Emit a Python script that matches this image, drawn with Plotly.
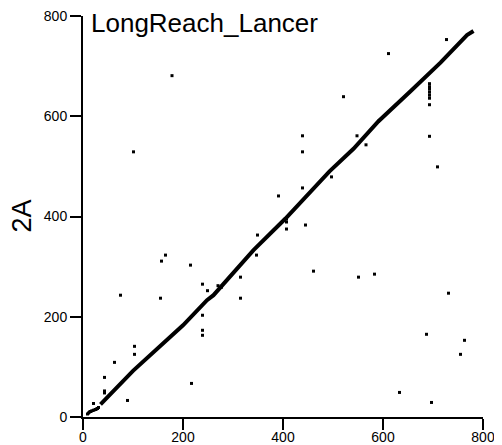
"""Dot plot: LongReach_Lancer vs 2A"""
import plotly.graph_objects as go

# main diagonal (vertices)
diag_x = [35, 100, 200, 248, 261, 341, 405, 493, 541, 591, 655, 715, 768, 781]
diag_y = [25, 92, 183, 233, 243, 333, 396, 490, 535, 590, 650, 707, 762, 770]

# small start of the diagonal
start_x = [9, 11, 13, 15, 17, 20, 22, 25, 27, 29, 31]
start_y = [6, 8, 10, 11, 12, 13, 14, 15, 16, 17, 19]

# scattered matches
dots_x = [178, 611, 727, 521, 439, 548, 566, 693,
          693, 693, 693, 693, 693, 693, 693,
          101, 439, 709, 391, 439, 445, 407, 407, 407, 349, 461, 551, 583, 731,
          165, 157, 215, 75, 155, 239, 249, 315, 315, 277, 270, 497,
          239, 239, 239, 103, 103, 63, 43, 43, 43, 89, 21, 217,
          633, 697, 687, 763, 755, 347, 591]
dots_y = [681, 725, 753, 639, 561, 561, 543, 560,
          665, 659, 654, 648, 642, 636, 623,
          529, 529, 499, 441, 457, 383, 375, 395, 389, 363, 291, 279, 285, 247,
          323, 311, 303, 243, 237, 265, 252, 279, 237, 259, 262, 479,
          203, 173, 163, 141, 125, 109, 79, 52, 48, 33, 27, 67,
          49, 29, 165, 153, 125, 323, 590]

FONT = "Liberation Sans, Arial, sans-serif"

fig = go.Figure()
fig.add_trace(go.Scatter(x=diag_x, y=diag_y, mode="lines",
                         line=dict(color="black", width=4)))
fig.add_trace(go.Scatter(x=start_x, y=start_y, mode="markers",
                         marker=dict(symbol="square", size=3, color="black")))
fig.add_trace(go.Scatter(x=dots_x, y=dots_y, mode="markers",
                         marker=dict(symbol="square", size=3, color="black")))

axis = dict(range=[0, 800], tickvals=[0, 200, 400, 600, 800],
            showline=True, linecolor="black", linewidth=2,
            ticks="outside", ticklen=11, tickwidth=2, tickcolor="black",
            showgrid=False, zeroline=False, automargin=False,
            ticklabeloverflow="allow",
            tickfont=dict(family=FONT, size=14, color="black"))

# page body adds 8px, so the margins are shifted to match
fig.update_layout(
    width=494, height=437,
    margin=dict(l=75, r=19, t=8, b=28),
    paper_bgcolor="white", plot_bgcolor="white",
    showlegend=False,
    xaxis=dict(axis, ticklabelstandoff=-5), yaxis=axis,
    font=dict(family=FONT, color="black"),
    annotations=[
        dict(text="LongReach_Lancer", x=0.018, y=1.0, xref="paper", yref="paper",
             xanchor="left", yanchor="top", showarrow=False, yshift=9,
             borderpad=0,
             font=dict(family=FONT, size=26, color="black")),
        dict(text="2A", x=-0.155, y=0.5, xref="paper", yref="paper",
             xanchor="center", yanchor="middle", textangle=-90, showarrow=False,
             borderpad=0,
             font=dict(family=FONT, size=27, color="black")),
    ],
)

fig.write_html("out.html")
